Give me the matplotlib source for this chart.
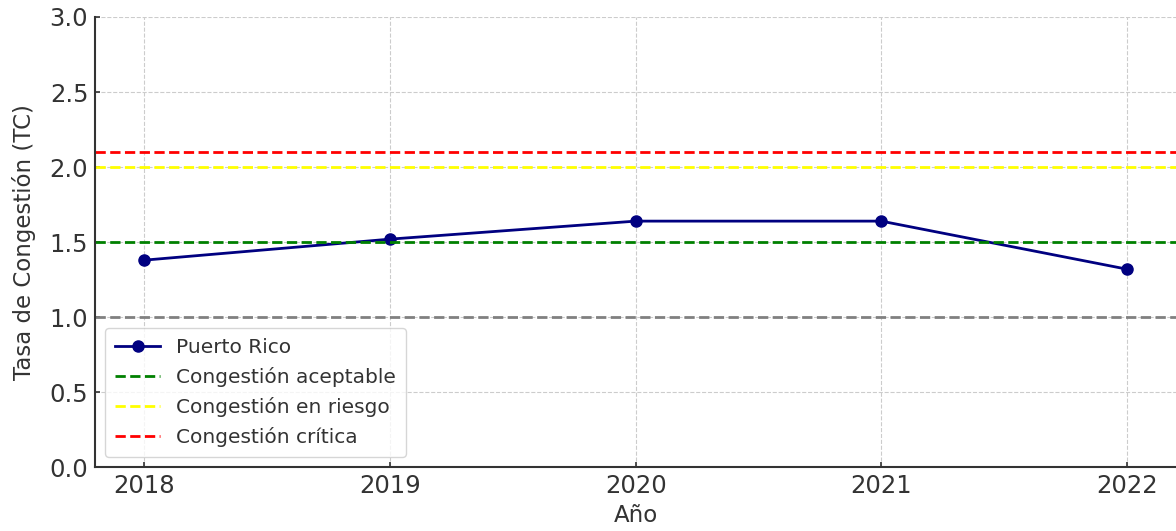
import matplotlib.pyplot as plt

years = [2018, 2019, 2020, 2021, 2022]
tc_pr = [1.38, 1.52, 1.64, 1.64, 1.32]
ref_base = 1.0
ref_ok = 1.5
ref_risk = 2.0
ref_crit = 2.1

fig = plt.figure(figsize=(11.76, 5.31), dpi=100)
ax = fig.add_axes([0.081, 0.12, 0.919, 0.848])

ax.plot(years, tc_pr, marker='o', color='navy', linewidth=2, markersize=8, label='Puerto Rico')
ax.axhline(ref_ok, color='green', linestyle='--', linewidth=2, label='Congestión aceptable')
ax.axhline(ref_risk, color='yellow', linestyle='--', linewidth=2, label='Congestión en riesgo')
ax.axhline(ref_crit, color='red', linestyle='--', linewidth=2, label='Congestión crítica')
ax.axhline(ref_base, color='gray', linestyle='--', linewidth=2)

ax.set_ylim(0, 3.0)
ax.set_xlim(2017.8, 2022.2)
ax.set_xticks(years)
ax.set_yticks([0.0, 0.5, 1.0, 1.5, 2.0, 2.5, 3.0])
ax.set_yticklabels(['0.0', '0.5', '1.0', '1.5', '2.0', '2.5', '3.0'])
ax.tick_params(direction='in', labelsize=17.5, colors='#333333', width=1.2, pad=5)
ax.grid(True, linestyle='--', color='#cccccc', linewidth=0.8)
ax.set_axisbelow(True)

for s in ['top', 'right']:
    ax.spines[s].set_visible(False)
for s in ['left', 'bottom']:
    ax.spines[s].set_linewidth(1.5)
    ax.spines[s].set_color('#333333')

ax.set_xlabel('Año', fontsize=16.5, color='#333333', labelpad=4)
ax.set_ylabel('Tasa de Congestión (TC)', fontsize=16.5, color='#333333', labelpad=10)
leg = ax.legend(loc='lower left', fontsize=14.5, handlelength=2.2, borderpad=0.5,
                labelspacing=0.5, framealpha=0.8)
for t in leg.get_texts():
    t.set_color('#333333')

fig.savefig('out.png', dpi=100)
